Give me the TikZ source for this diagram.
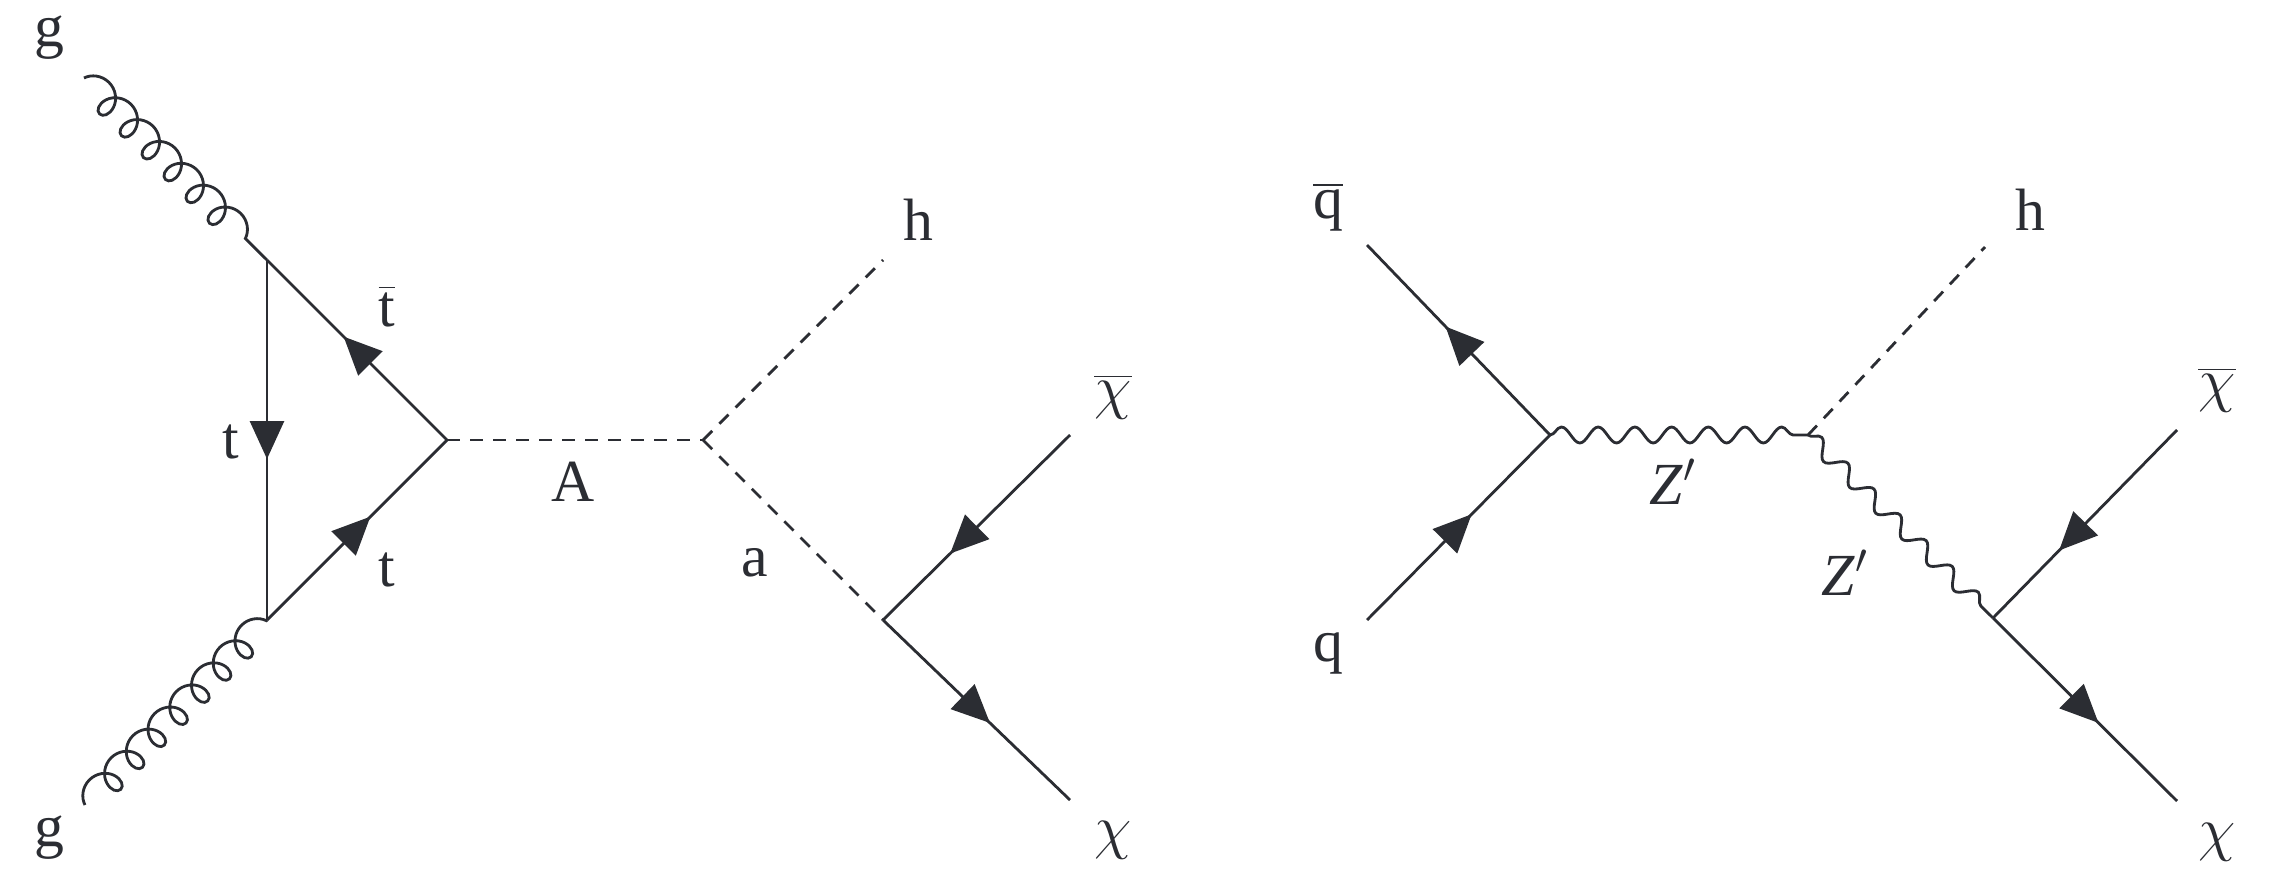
\documentclass[tikz,border=0pt]{standalone}
\usepackage{fontspec}
\setmainfont{Liberation Serif}
\usetikzlibrary{arrows.meta,decorations.pathmorphing,decorations.markings}

\definecolor{ink}{RGB}{43,45,51}

\tikzset{
  lbl/.style={font=\fontsize{17}{20}\selectfont, text=ink, inner sep=0pt},
  fermion/.style={postaction={decorate},
    decoration={markings, mark=at position #1 with
      {\arrow[xshift=1.9mm]{Triangle[length=3.8mm,width=3.4mm]}}}},
  fermion/.default=0.5,
  scalar/.style={dash pattern=on 1.3mm off 1mm},
  photon/.style={decorate, decoration={snake, amplitude=0.8mm, segment length=3.67mm}},
  gluon/.style={decorate, decoration={coil, amplitude=1.45mm, segment length=3.1mm, aspect=0.9}}
}

\begin{document}
\begin{tikzpicture}[line width=0.8pt, color=ink]
    \useasboundingbox (0,0) rectangle (22.69,8.85);
    % gluon fusion, top loop
    \coordinate (g1) at (0.84,8.07);
    \coordinate (g2) at (0.85,0.80);
    \coordinate (T) at (2.67,6.25);
    \coordinate (B) at (2.67,2.65);
    \coordinate (R) at (4.47,4.45);
    \coordinate (V) at (7.03,4.45);
    \coordinate (h1) at (8.83,6.25);
    \coordinate (C) at (8.83,2.65);
    \coordinate (xb1) at (10.70,4.50);
    \coordinate (x1) at (10.70,0.85);
    \draw[gluon] (g1) -- (T);
    \draw[gluon] (g2) -- (B);
    \draw[fermion] (T) -- (B);
    \draw[fermion] (R) -- (T);
    \draw[fermion] (B) -- (R);
    \draw[scalar] (R) -- (V);
    \draw[scalar] (V) -- (h1);
    \draw[scalar] (V) -- (C);
    \draw[fermion=0.57] (xb1) -- (C);
    \draw[fermion] (C) -- (x1);
    \node[lbl] (lg1) at (0.49,8.47) {g};
    \node[lbl] (lg2) at (0.49,0.47) {g};
    \node[lbl] (ltb) at (3.87,5.79) {$\overline{\mbox{t}}$};
    \node[lbl] (lt1) at (2.31,4.43) {t};
    \node[lbl] (lt2) at (3.87,3.15) {t};
    \node[lbl] (lA) at (5.73,4.03) {A};
    \node[lbl] (la) at (7.55,3.22) {a};
    \node[lbl] (lh1) at (9.18,6.65) {h};
    \node[lbl] (lxb1) at (11.13,4.88) {$\overline{\chi}$};
    \node[lbl] (lx1) at (11.13,0.45) {$\chi$};
    % Z' mediator
    \coordinate (qb) at (13.67,6.40);
    \coordinate (q) at (13.67,2.65);
    \coordinate (P) at (15.50,4.50);
    \coordinate (Q) at (18.08,4.50);
    \coordinate (h2) at (19.85,6.38);
    \coordinate (D) at (19.93,2.67);
    \coordinate (xb2) at (21.77,4.55);
    \coordinate (x2) at (21.77,0.84);
    \draw[fermion] (P) -- (qb);
    \draw[fermion] (q) -- (P);
    \draw[photon] (P) -- (Q);
    \draw[scalar] (Q) -- (h2);
    \draw[photon] (Q) -- (D);
    \draw[fermion=0.57] (xb2) -- (D);
    \draw[fermion] (D) -- (x2);
    \node[lbl] (lqb) at (13.28,6.78) {$\overline{\mbox{q}}$};
    \node[lbl] (lq) at (13.28,2.32) {q};
    \node[lbl] (lZ1) at (16.73,4.03) {\textit{Z}$'$};
    \node[lbl] (lZ2) at (18.45,3.12) {\textit{Z}$'$};
    \node[lbl] (lh2) at (20.30,6.75) {h};
    \node[lbl] (lxb2) at (22.17,4.95) {$\overline{\chi}$};
    \node[lbl] (lx2) at (22.17,0.43) {$\chi$};
\end{tikzpicture}
\end{document}
